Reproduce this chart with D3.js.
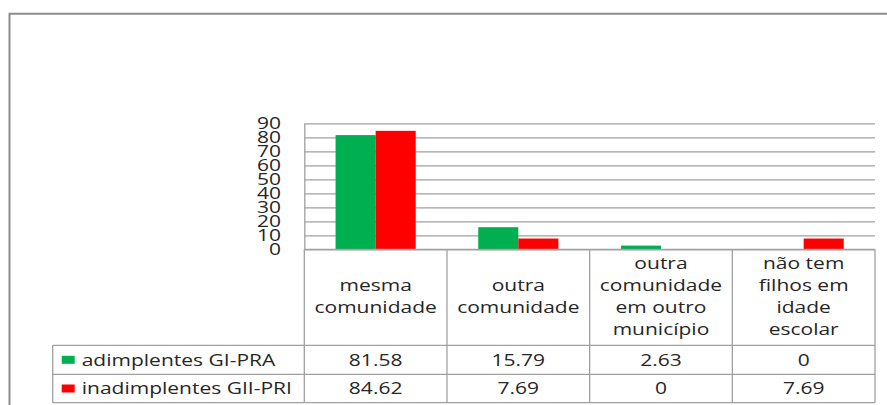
<!DOCTYPE html>
<html>
<head>
<meta charset="utf-8">
<script src="https://cdn.jsdelivr.net/npm/d3@7"></script>
<style>
  html, body { margin: 0; padding: 0; background: #fff; }
  svg { display: block; }
</style>
</head>
<body>
<div id="chart"></div>
<script>
// data
const categories = ["mesma comunidade", "outra comunidade", "outra comunidade em outro município", "não tem filhos em idade escolar"];
const categoryLines = [
  ["mesma", "comunidade"],
  ["outra", "comunidade"],
  ["outra", "comunidade", "em outro", "município"],
  ["não tem", "filhos em", "idade", "escolar"]
];
const seriesNames = ["adimplentes GI-PRA", "inadimplentes GII-PRI"];
const adimplentes = [81.58, 15.79, 2.63, 0];
const inadimplentes = [84.62, 7.69, 0, 7.69];
const yTicks = [0, 10, 20, 30, 40, 50, 60, 70, 80, 90];

const seriesValues = [adimplentes, inadimplentes];
const colors = ["#00b050", "#ff0000"];

const W = 887, H = 405;
const cfg = {
  left: 304.3, right: 875, top: 123.3, zero: 249.3,
  headBottom: 345.3, row1: 374.3, row2: 402.7,
  legendLeft: 52.7,
  stretch: 1.33,       // text in the picture is stretched horizontally
  font: "'Open Sans', sans-serif",
  fontSize: 15.8,
  grid: "#a0a0a0",
  text: "#262626"
};

const svg = d3.select("#chart").append("svg")
  .attr("width", W).attr("height", H);

// outer frame (only top and left visible)
svg.append("path")
  .attr("d", `M9.5,${H + 5} L9.5,13.7 L${W + 5},13.7`)
  .attr("fill", "none")
  .attr("stroke", "#8c8c8c")
  .attr("stroke-width", 2);

const x = d3.scaleBand().domain(categories).range([cfg.left, cfg.right]);
const xs = d3.scaleBand().domain(seriesNames).range([0, x.bandwidth()]).paddingOuter(0.78);
const y = d3.scaleLinear().domain([0, 90]).range([cfg.zero, cfg.top]);

// stretched text helper
function label(g, tx, ty, str, anchor) {
  return g.append("text")
    .attr("transform", `translate(${tx},${ty}) scale(${cfg.stretch},1)`)
    .attr("text-anchor", anchor || "middle")
    .style("font-family", cfg.font)
    .style("font-size", cfg.fontSize + "px")
    .attr("fill", cfg.text)
    .text(str);
}

// y axis with gridlines
const yAxis = svg.append("g")
  .attr("transform", `translate(${cfg.left},0)`)
  .call(d3.axisLeft(y).tickValues(yTicks).tickSizeInner(-(cfg.right - cfg.left)).tickSizeOuter(0));
yAxis.select(".domain").attr("stroke", cfg.grid).attr("stroke-width", 1.3);
yAxis.selectAll(".tick line").attr("stroke", cfg.grid).attr("stroke-width", 1.3);
yAxis.selectAll(".tick text")
  .attr("x", -23.3 / cfg.stretch)
  .attr("dy", "0.36em")
  .attr("transform", `scale(${cfg.stretch},1)`)
  .style("font-family", cfg.font)
  .style("font-size", cfg.fontSize + "px")
  .attr("fill", cfg.text);

// bars
const groups = svg.selectAll(".cat")
  .data(categories)
  .enter().append("g")
  .attr("class", "cat")
  .attr("transform", d => `translate(${x(d)},0)`);

groups.selectAll("rect")
  .data((d, i) => seriesNames.map((s, j) => ({ s, j, v: seriesValues[j][i] })))
  .enter().append("rect")
  .attr("x", d => xs(d.s))
  .attr("width", xs.bandwidth())
  .attr("y", d => y(d.v))
  .attr("height", d => y(0) - y(d.v))
  .attr("fill", d => colors[d.j]);

// data table
const table = svg.append("g")
  .attr("stroke", cfg.grid)
  .attr("stroke-width", 1.3)
  .attr("fill", "none");

// horizontal lines
table.append("line").attr("x1", cfg.left).attr("x2", cfg.right).attr("y1", cfg.zero).attr("y2", cfg.zero);
[cfg.headBottom, cfg.row1, cfg.row2].forEach(yy =>
  table.append("line").attr("x1", cfg.legendLeft).attr("x2", cfg.right).attr("y1", yy).attr("y2", yy));
// vertical lines
table.append("line").attr("x1", cfg.legendLeft).attr("x2", cfg.legendLeft).attr("y1", cfg.headBottom).attr("y2", cfg.row2);
categories.forEach(c =>
  table.append("line").attr("x1", x(c)).attr("x2", x(c)).attr("y1", cfg.zero).attr("y2", cfg.row2));
table.append("line").attr("x1", cfg.right).attr("x2", cfg.right).attr("y1", cfg.zero).attr("y2", cfg.row2);

// category labels
const txt = svg.append("g");
const headMid = (cfg.zero + cfg.headBottom) / 2;
const lineH = 21.8;
categories.forEach((c, i) => {
  const lines = categoryLines[i];
  const cx = x(c) + x.bandwidth() / 2;
  lines.forEach((ln, k) => {
    const cy = headMid + (k - (lines.length - 1) / 2) * lineH;
    label(txt, cx, cy + 4.6, ln);
  });
});

// value rows + legend keys
const rowMids = [(cfg.headBottom + cfg.row1) / 2, (cfg.row1 + cfg.row2) / 2];
seriesNames.forEach((s, j) => {
  const cy = rowMids[j];
  svg.append("rect")
    .attr("x", 61.7).attr("y", cy - 4)
    .attr("width", 13).attr("height", 8)
    .attr("fill", colors[j]);
  label(txt, 81.7, cy + 5.7, s, "start");
  categories.forEach((c, i) => {
    label(txt, x(c) + x.bandwidth() / 2, cy + 5.7, String(seriesValues[j][i]));
  });
});
</script>
</body>
</html>
